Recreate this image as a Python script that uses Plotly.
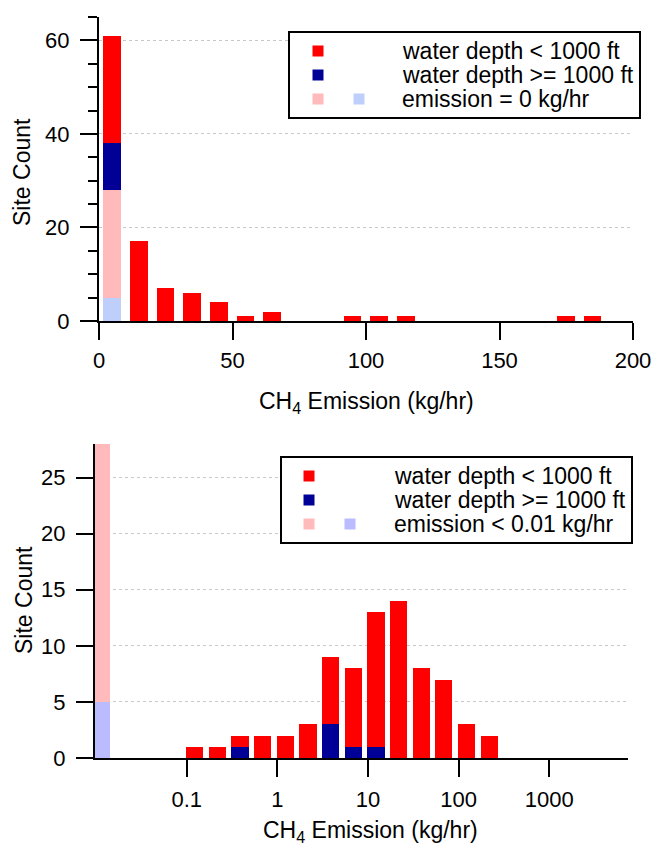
import numpy as np
import plotly.graph_objects as go

W, H = 655, 845
FONT = "Liberation Sans, Arial, Helvetica, sans-serif"
FS = 22      # tick labels
FT = 23      # titles and legend text

# ---------------- data: top chart (linear 10 kg/hr bins) ----------------
lin_bin_start = [0, 10, 20, 30, 40, 50, 60, 70, 80, 90, 100, 110, 120, 130, 140, 150, 160, 170, 180, 190]
lin_shallow = [23, 17, 7, 6, 4, 1, 2, 0, 0, 1, 1, 1, 0, 0, 0, 0, 0, 1, 1, 0]
lin_deep = [10, 0, 0, 0, 0, 0, 0, 0, 0, 0, 0, 0, 0, 0, 0, 0, 0, 0, 0, 0]
lin_zero_shallow = [23, 0, 0, 0, 0, 0, 0, 0, 0, 0, 0, 0, 0, 0, 0, 0, 0, 0, 0, 0]
lin_zero_deep = [5, 0, 0, 0, 0, 0, 0, 0, 0, 0, 0, 0, 0, 0, 0, 0, 0, 0, 0, 0]
top_xticks = [0, 50, 100, 150, 200]

# ---------------- data: bottom chart (quarter-decade bins) ----------------
log_bin_start = [0.1, 0.178, 0.316, 0.562, 1.0, 1.78, 3.16, 5.62, 10.0, 17.8, 31.6, 56.2, 100.0, 178.0]
log_shallow = [1, 1, 1, 2, 2, 3, 6, 7, 12, 14, 8, 7, 3, 2]
log_deep = [0, 0, 1, 0, 0, 0, 3, 1, 1, 0, 0, 0, 0, 0]
below_bin_start = [0.0093]
below_shallow = [23]
below_deep = [5]
bottom_tick_values = [0.1, 1, 10, 100, 1000]
bottom_tick_labels = ["0.1", "1", "10", "100", "1000"]

RED = "#FF0000"
NAVY = "#000096"
PINK = "#FFBBBB"
LBLUE_TOP = "#BFCFFB"
LBLUE_BOT = "#BBBBFF"

top_w = 6.6
top_x = [s + 4.9 for s in lin_bin_start]
log_w = 0.19
log_x = [np.log10(s) + 0.088 for s in log_bin_start]
below_x = [np.log10(s) + 0.088 for s in below_bin_start]

fig = go.Figure()

def bar(x, y, color, xa, ya, w):
    fig.add_trace(go.Bar(x=x, y=y, width=w, marker=dict(color=color, line=dict(width=0)),
                         xaxis=xa, yaxis=ya, showlegend=False, hoverinfo="skip"))

# top (stack: light blue, pink, navy, red)
bar(top_x, lin_zero_deep, LBLUE_TOP, "x", "y", top_w)
bar(top_x, lin_zero_shallow, PINK, "x", "y", top_w)
bar(top_x, lin_deep, NAVY, "x", "y", top_w)
bar(top_x, lin_shallow, RED, "x", "y", top_w)

# bottom
bar(below_x, below_deep, LBLUE_BOT, "x2", "y2", log_w)
bar(below_x, below_shallow, PINK, "x2", "y2", log_w)
bar(log_x, log_deep, NAVY, "x2", "y2", log_w)
bar(log_x, log_shallow, RED, "x2", "y2", log_w)

def px(x):
    return x / W

def py(y):
    return 1 - y / H

axis_common = dict(showline=True, linewidth=2, linecolor="black", ticks="outside",
                   tickwidth=2, tickcolor="black", zeroline=False, automargin=False,
                   tickfont=dict(family=FONT, size=FS, color="black"))

fig.update_layout(
    width=W, height=H, margin=dict(l=0, r=0, t=0, b=0),
    paper_bgcolor="white", plot_bgcolor="white", barmode="stack", bargap=0,
    font=dict(family=FONT, size=FS, color="black"),
    xaxis=dict(domain=[px(99), px(633)], range=[0, 200], anchor="y",
               tickvals=top_xticks, ticklen=17, showgrid=False, ticklabelstandoff=2,
               **axis_common),
    yaxis=dict(domain=[py(321), py(17)], range=[0, 65], anchor="x",
               tick0=0, dtick=20, ticklen=17, ticklabelstandoff=6,
               showgrid=True, gridcolor="#c8c8c8", griddash="dot", gridwidth=1,
               minor=dict(dtick=5, tick0=0, ticklen=9, tickwidth=2, tickcolor="black",
                          ticks="outside", showgrid=False),
               **axis_common),
    xaxis2=dict(domain=[px(95), px(628)], range=[-2.013, 3.87], anchor="y2",
                tickvals=[float(np.log10(v)) for v in bottom_tick_values],
                ticktext=bottom_tick_labels, ticklen=17, showgrid=False, ticklabelstandoff=4,
                **axis_common),
    yaxis2=dict(domain=[py(758), py(444)], range=[0, 28], anchor="x2",
                tick0=0, dtick=5, ticklen=17, ticklabelstandoff=6,
                showgrid=True, gridcolor="#c8c8c8", griddash="dot", gridwidth=1,
                **axis_common),
)

ann = []
shapes = []
# axis titles
ann.append(dict(text="CH<sub>4</sub> Emission (kg/hr)", x=px(366), y=py(402), xref="paper", yref="paper",
                xanchor="center", yanchor="middle", showarrow=False, font=dict(size=FT)))
ann.append(dict(text="CH<sub>4</sub> Emission (kg/hr)", x=px(370), y=py(831), xref="paper", yref="paper",
                xanchor="center", yanchor="middle", showarrow=False, font=dict(size=FT)))
ann.append(dict(text="Site Count", x=px(22), y=py(172), xref="paper", yref="paper", textangle=-90,
                xanchor="center", yanchor="middle", showarrow=False, font=dict(size=FT)))
ann.append(dict(text="Site Count", x=px(24), y=py(600), xref="paper", yref="paper", textangle=-90,
                xanchor="center", yanchor="middle", showarrow=False, font=dict(size=FT)))

def legend(box, c1x, c2x, rows, textx, labels, lb):
    x0, y0, x1, y1 = box
    shapes.append(dict(type="rect", xref="paper", yref="paper", x0=px(x0), x1=px(x1), y0=py(y1), y1=py(y0),
                       line=dict(color="black", width=2), fillcolor="white", layer="above"))
    sw = 5.5
    sw_list = [(c1x, rows[0], RED), (c1x, rows[1], NAVY), (c1x, rows[2], PINK), (c2x, rows[2], lb)]
    for cx, cy, col in sw_list:
        shapes.append(dict(type="rect", xref="paper", yref="paper", x0=px(cx - sw), x1=px(cx + sw),
                           y0=py(cy + sw), y1=py(cy - sw), line=dict(width=0), fillcolor=col, layer="above"))
    for r, t in zip(rows, labels):
        ann.append(dict(text=t, x=px(textx), y=py(r), xref="paper", yref="paper", xanchor="left",
                        yanchor="middle", showarrow=False, font=dict(size=FT)))

legend((289, 32, 640, 118), 318, 359, [51, 75, 99], 400,
       ["water depth &lt; 1000 ft", "water depth &gt;= 1000 ft", "emission = 0 kg/hr"], LBLUE_TOP)
legend((281, 457, 632, 543), 309, 350, [476, 500, 524], 392,
       ["water depth &lt; 1000 ft", "water depth &gt;= 1000 ft", "emission &lt; 0.01 kg/hr"], LBLUE_BOT)

fig.update_layout(annotations=ann, shapes=shapes)
fig.write_html("out.html", config={"displayModeBar": False})

# remove the default page margin so the figure sits at the window's top-left corner
with open("out.html", "r", encoding="utf-8") as f:
    html = f.read()
html = html.replace("<head>", "<head><style>html,body{margin:0;padding:0;}</style>", 1)
with open("out.html", "w", encoding="utf-8") as f:
    f.write(html)
